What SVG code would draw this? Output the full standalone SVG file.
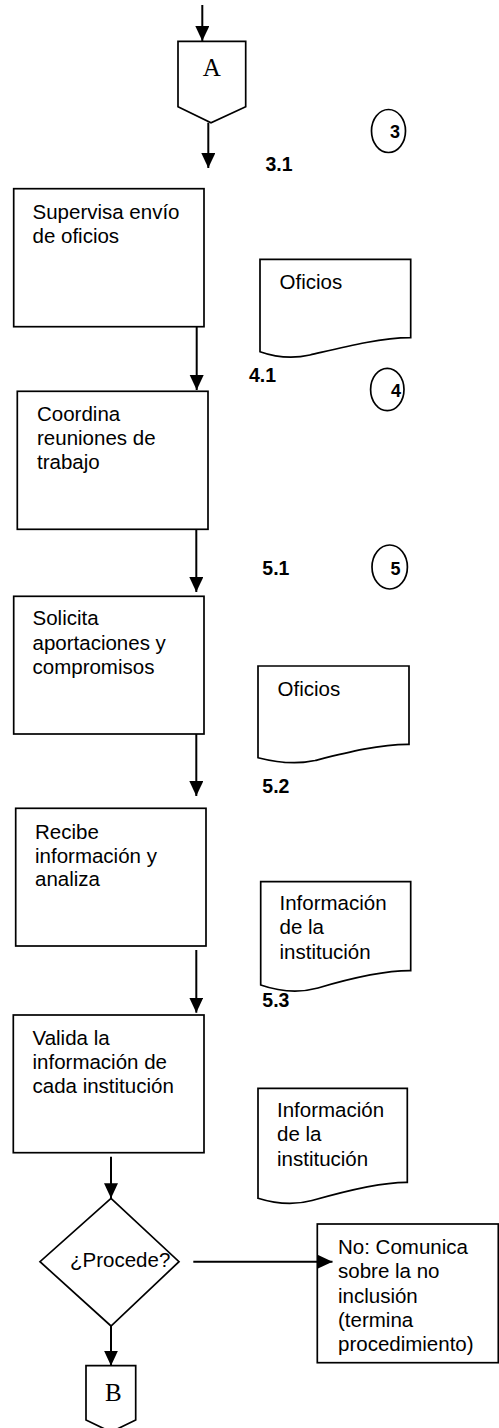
<svg xmlns="http://www.w3.org/2000/svg" width="499" height="1428" viewBox="0 0 499 1428">
<style>
.s{fill:#fff;stroke:#000;stroke-width:1.7}
.t{font-family:"Liberation Sans",Arial,sans-serif;font-size:20.5px;fill:#000}
.n{font-family:"Liberation Sans",Arial,sans-serif;font-size:19.5px;font-weight:bold;fill:#000}
.c{font-family:"Liberation Sans",Arial,sans-serif;font-size:18px;font-weight:bold;fill:#000}
.o{font-family:"Liberation Serif","Times New Roman",serif;font-size:25px;fill:#000}
.l{fill:none;stroke:#000;stroke-width:2}
</style>
<defs>
<marker id="ah" markerUnits="userSpaceOnUse" markerWidth="16" markerHeight="15" refX="15" refY="7" orient="auto" viewBox="0 0 16 15">
<path d="M0,0 L15,7 L0,14 Z" fill="#000"/>
</marker>
</defs>
<rect width="499" height="1428" fill="#fff"/>
<g id="connA">
<path class="s" d="M178,41.3 H245.7 V106.7 L211,122.7 L178,106.7 Z"/>
<text class="o" x="211.8" y="76" text-anchor="middle">A</text>
</g>
<g id="lbl31"><text class="n" x="265.5" y="171">3.1</text></g>
<g id="circle3">
<ellipse class="s" cx="388.5" cy="131" rx="17" ry="21.5"/>
<text class="c" x="395" y="138" text-anchor="middle">3</text>
</g>
<g id="box1">
<rect class="s" x="13.7" y="188.7" width="190.3" height="138"/>
<text class="t" x="32.5" y="218.5">Supervisa envío</text>
<text class="t" x="32.5" y="243">de oficios</text>
</g>
<g id="doc1">
<path class="s" d="M260,259.3 H410.7 V337.7 C380,337.5 340,348 310,355 C290,359.5 275,357 260,351.7 Z"/>
<text class="t" x="279.5" y="289">Oficios</text>
</g>
<g id="lbl41"><text class="n" x="249" y="381.7">4.1</text></g>
<g id="circle4">
<ellipse class="s" cx="387.3" cy="389.5" rx="16.7" ry="21.2"/>
<text class="c" x="396" y="397.3" text-anchor="middle">4</text>
</g>
<g id="box2">
<rect class="s" x="17.3" y="391.3" width="190.7" height="138"/>
<text class="t" x="37" y="420.7">Coordina</text>
<text class="t" x="37" y="445">reuniones de</text>
<text class="t" x="37" y="469">trabajo</text>
</g>
<g id="lbl51"><text class="n" x="262.3" y="575">5.1</text></g>
<g id="circle5">
<ellipse class="s" cx="389.7" cy="567" rx="17.7" ry="22"/>
<text class="c" x="395.5" y="575" text-anchor="middle">5</text>
</g>
<g id="box3">
<rect class="s" x="13.7" y="596.3" width="190.3" height="137.7"/>
<text class="t" x="32.5" y="625">Solicita</text>
<text class="t" x="32.5" y="650">aportaciones y</text>
<text class="t" x="32.5" y="674.3">compromisos</text>
</g>
<g id="doc2">
<path class="s" d="M258,666 H409 V744.3 C380,744 345,753 315,760.5 C295,765 275,762 258,757.7 Z"/>
<text class="t" x="277.5" y="695.7">Oficios</text>
</g>
<g id="lbl52"><text class="n" x="262.3" y="793.3">5.2</text></g>
<g id="box4">
<rect class="s" x="15.7" y="808.3" width="190.3" height="137.7"/>
<text class="t" x="35" y="839.3">Recibe</text>
<text class="t" x="35" y="863.3">información y</text>
<text class="t" x="35" y="886">analiza</text>
</g>
<g id="doc3">
<path class="s" d="M260.7,881.7 H410.7 V970.7 C382,970.5 345,980 318,988 C298,993.5 278,991 260.7,985 Z"/>
<text class="t" x="279.5" y="910">Información</text>
<text class="t" x="279.5" y="934.3">de la</text>
<text class="t" x="279.5" y="959">institución</text>
</g>
<g id="lbl53"><text class="n" x="262.3" y="1006.7">5.3</text></g>
<g id="box5">
<rect class="s" x="13.3" y="1015" width="190.7" height="137.7"/>
<text class="t" x="32.5" y="1045">Valida la</text>
<text class="t" x="32.5" y="1069.3">información de</text>
<text class="t" x="32.5" y="1093.3">cada institución</text>
</g>
<g id="doc4">
<path class="s" d="M258,1088.3 H407.3 V1182.3 C380,1182 345,1191 312,1200.5 C292,1206 273,1203 258,1198.3 Z"/>
<text class="t" x="277" y="1117.3">Información</text>
<text class="t" x="277" y="1141">de la</text>
<text class="t" x="277" y="1166">institución</text>
</g>
<g id="decision">
<path class="s" d="M111,1198.3 L179,1261.7 L111,1326 L40,1261.7 Z"/>
<text class="t" x="70" y="1267">¿Procede?</text>
</g>
<g id="boxNo">
<rect class="s" x="317.3" y="1224" width="181" height="138.7"/>
<text class="t" x="338" y="1254.3">No: Comunica</text>
<text class="t" x="338" y="1278.3">sobre la no</text>
<text class="t" x="338" y="1302.7">inclusión</text>
<text class="t" x="338" y="1326.7">(termina</text>
<text class="t" x="338" y="1351">procedimiento)</text>
</g>
<g id="connB">
<path class="s" d="M86,1365.7 H135.7 V1420 L111,1432 L86,1420 Z"/>
<text class="o" x="113.3" y="1401" text-anchor="middle">B</text>
</g>
<g id="connectors">
<line class="l" x1="202.3" y1="5" x2="202.3" y2="41" marker-end="url(#ah)"/>
<line class="l" x1="208.3" y1="122.7" x2="208.3" y2="168" marker-end="url(#ah)"/>
<line class="l" x1="196.7" y1="327" x2="196.7" y2="390" marker-end="url(#ah)"/>
<line class="l" x1="196.3" y1="529.3" x2="196.3" y2="592" marker-end="url(#ah)"/>
<line class="l" x1="196.3" y1="734" x2="196.3" y2="796" marker-end="url(#ah)"/>
<line class="l" x1="196.3" y1="950" x2="196.3" y2="1012.7" marker-end="url(#ah)"/>
<line class="l" x1="111" y1="1156.7" x2="111" y2="1198.3" marker-end="url(#ah)"/>
<line class="l" x1="193.3" y1="1261.7" x2="332.5" y2="1261.7" marker-end="url(#ah)"/>
<line class="l" x1="111" y1="1326" x2="111" y2="1365.7" marker-end="url(#ah)"/>
</g>
</svg>
